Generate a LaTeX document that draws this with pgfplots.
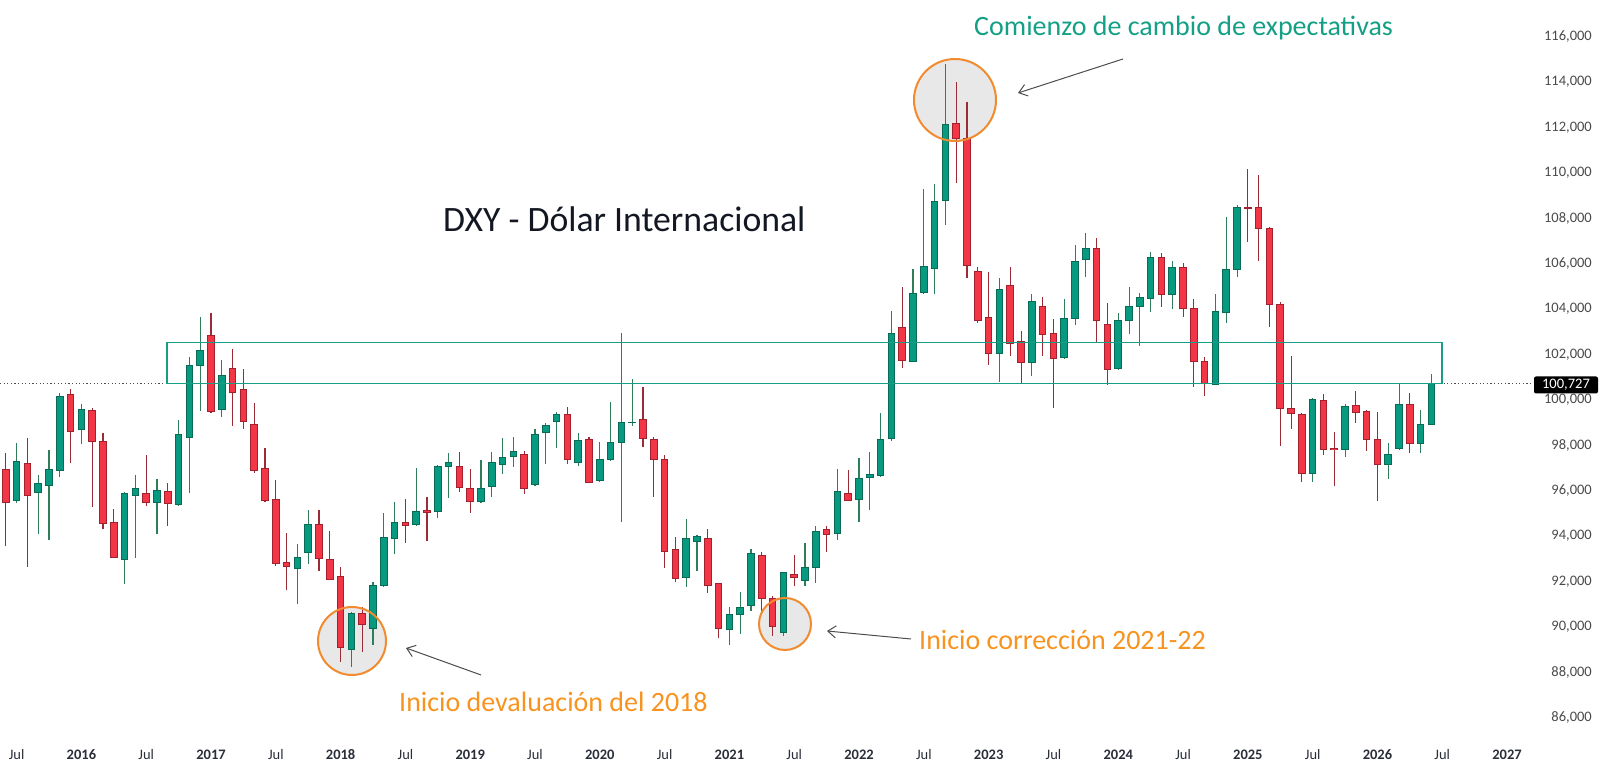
\documentclass[border=0pt]{standalone}
\usepackage{fontspec}
\setmainfont{Carlito}
\usepackage{pgfplots}
\pgfplotsset{compat=1.18}
\usepackage{pgfplotstable}
\usetikzlibrary{arrows.meta}

\definecolor{cgreen}{HTML}{089981}
\definecolor{gborder}{HTML}{0A6B55}
\definecolor{gwick}{HTML}{2E7D5B}
\definecolor{cred}{HTML}{F23645}
\definecolor{rborder}{HTML}{A3202E}
\definecolor{rwick}{HTML}{9B2C35}
\definecolor{boxteal}{HTML}{179E86}
\definecolor{tealtext}{HTML}{14A085}
\definecolor{orangetxt}{HTML}{F7931E}
\definecolor{orangeline}{HTML}{F28A2E}
\definecolor{circfill}{HTML}{E8E8E8}
\definecolor{ylab}{HTML}{4A4A4A}
\definecolor{xlab}{HTML}{2A2E39}
\definecolor{titlecol}{HTML}{131722}

\pgfplotstableread{
m O H L C
1 95.59 98.12 95.45 97.30
3 95.92 96.70 94.08 96.33
4 96.24 97.80 93.83 96.95
5 96.89 100.30 96.62 100.15
7 98.68 99.82 98.06 99.59
11 92.98 95.95 91.89 95.89
12 95.79 96.70 93.02 96.11
14 95.49 96.50 94.08 96.01
16 95.39 99.12 95.33 98.46
17 98.36 101.91 95.92 101.50
18 101.50 103.67 99.50 102.20
20 99.56 101.76 99.24 101.09
27 92.59 93.64 91.01 93.06
28 93.28 95.15 92.76 94.52
32 88.99 90.68 88.25 90.60
34 89.94 91.97 89.21 91.81
35 91.81 95.04 91.75 93.95
36 93.91 95.49 93.22 94.61
38 94.52 96.99 94.45 95.08
40 95.08 97.14 94.82 97.09
41 97.06 97.68 95.70 97.24
44 95.52 97.36 95.45 96.11
45 96.21 97.70 95.74 97.25
46 97.17 98.31 96.74 97.46
47 97.50 98.36 97.06 97.72
49 96.26 98.71 96.22 98.49
50 98.56 99.00 97.17 98.87
51 99.07 99.49 97.87 99.37
53 97.25 98.53 97.11 98.21
55 96.45 98.16 96.40 97.39
56 97.36 99.93 97.30 98.12
57 98.12 102.97 94.64 99.02
58 98.99 100.91 98.85 99.03
63 92.17 94.74 91.75 93.88
64 93.76 94.05 92.48 93.98
67 89.90 90.87 89.20 90.53
68 90.53 91.56 89.69 90.87
69 90.94 93.42 90.72 93.22
72 89.75 92.44 89.60 92.39
74 92.05 93.70 91.80 92.62
75 92.62 94.47 91.96 94.21
77 94.12 96.95 93.83 95.97
79 95.63 97.44 94.63 96.53
80 96.60 97.72 95.14 96.72
81 96.69 99.42 96.60 98.26
82 98.29 103.90 98.20 102.93
84 101.71 105.76 101.66 104.68
85 104.75 109.28 104.69 105.88
86 105.80 109.50 104.65 108.73
87 108.80 114.80 107.72 112.13
92 102.05 105.37 100.81 104.88
95 101.66 104.68 101.04 104.32
98 101.86 104.43 101.79 103.60
99 103.60 106.83 103.30 106.09
100 106.20 107.37 105.40 106.68
103 101.39 103.82 101.32 103.50
104 103.50 104.96 102.91 104.14
105 104.11 104.70 102.38 104.51
106 104.48 106.51 103.89 106.29
108 104.63 106.14 104.01 105.84
112 100.70 104.67 100.65 103.89
113 103.85 108.05 103.41 105.76
114 105.76 108.59 105.43 108.47
121 96.77 100.10 96.40 100.03
124 97.80 99.82 97.50 99.71
128 97.14 98.09 96.51 97.62
129 97.87 100.71 97.80 99.82
131 98.09 99.56 97.65 98.93
132 98.93 101.13 98.90 100.73
}\greendata

\pgfplotstableread{
m O H L C
0 96.92 97.68 93.58 95.48
2 97.21 98.34 92.66 95.79
6 100.25 100.47 97.21 98.61
8 99.56 99.63 95.27 98.19
9 98.16 98.56 94.30 94.57
10 94.61 95.18 93.02 93.05
13 95.89 97.58 95.33 95.49
15 95.96 96.33 94.45 95.42
19 102.86 103.82 99.44 99.49
21 101.41 102.23 98.85 100.32
22 100.47 101.35 98.71 99.05
23 98.90 99.88 96.80 96.89
24 96.99 97.87 95.52 95.57
25 95.60 96.48 92.70 92.81
26 92.85 94.13 91.63 92.66
29 94.52 95.15 92.48 93.03
30 92.98 94.23 92.07 92.10
31 92.22 92.63 88.44 89.10
33 90.60 90.90 88.91 90.13
37 94.61 95.62 93.72 94.49
39 95.12 95.74 93.80 95.06
42 97.09 97.70 95.96 96.15
43 96.11 96.95 95.04 95.52
48 97.62 97.77 95.86 96.11
52 99.37 99.68 97.18 97.36
54 98.24 98.35 96.33 96.36
59 99.12 100.59 97.94 98.31
60 98.28 98.35 95.74 97.39
61 97.39 97.58 92.58 93.32
62 93.42 93.95 92.00 92.13
65 93.88 94.30 91.51 91.82
66 91.92 91.95 89.50 89.94
70 93.17 93.29 90.53 91.26
71 91.26 91.36 89.60 90.01
73 92.32 93.17 91.81 92.19
76 94.29 94.47 93.32 94.06
78 95.90 96.92 95.54 95.59
83 103.18 104.99 101.43 101.74
88 112.17 114.00 109.55 111.51
89 111.51 113.15 105.37 105.94
90 105.68 105.87 103.39 103.49
91 103.64 105.63 101.54 102.05
93 105.03 105.84 101.94 102.47
94 102.59 103.05 100.77 101.66
96 104.14 104.52 101.94 102.89
97 102.91 103.57 99.63 101.84
101 106.68 107.12 102.54 103.50
102 103.33 104.26 100.66 101.35
107 106.29 106.46 104.08 104.63
109 105.84 106.05 103.67 104.01
110 104.04 104.43 100.56 101.69
111 101.69 101.91 100.18 100.73
115 108.49 110.18 106.98 108.45
116 108.49 109.91 106.12 107.56
117 107.56 107.60 103.20 104.19
118 104.19 104.33 97.97 99.63
119 99.63 101.95 98.72 99.41
120 99.37 99.41 96.37 96.77
122 100.00 100.25 97.58 97.83
123 97.86 98.61 96.23 97.80
125 99.74 100.41 99.00 99.46
126 99.49 99.56 97.77 98.27
127 98.27 99.49 95.57 97.14
130 99.78 100.29 97.65 98.09
}\reddata

\pgfplotsset{
  wick/.style={draw=none, mark=none, forget plot,
    error bars/.cd, y dir=both, y explicit, error mark=none,
    error bar style={line width=1.1bp, draw=#1}},
  body/.style 2 args={draw=none, mark=none, forget plot,
    error bars/.cd, y dir=both, y explicit, error mark=none,
    error bar style={line width=#2, draw=#1, line cap=butt}},
}

\begin{document}
\begin{tikzpicture}
\useasboundingbox (0,0) rectangle (1601bp,766bp);
% circle fills behind candles (pixel coordinates)
\begin{scope}[x=1bp,y=-1bp,yshift=766bp]
  \fill[circfill] (955,100) circle[radius=41];
  \fill[circfill] (352,641) circle[radius=34];
  \fill[circfill] (785,624) circle[radius=26];
\end{scope}

\begin{axis}[
  at={(0bp,26bp)}, anchor=south west,
  scale only axis, width=1532bp, height=740bp,
  xmin=-0.537, xmax=141.31, ymin=85.022, ymax=117.621,
  enlargelimits=false,
  axis line style={draw=none},
  major tick length=0pt, tick style={draw=none},
  ytick={86,88,...,116},
  yticklabel pos=right,
  yticklabel style={anchor=east, xshift=60bp, inner sep=0pt, text=ylab,
    font=\fontsize{14.5bp}{17bp}\selectfont,
    /pgf/number format/fixed, /pgf/number format/fixed zerofill,
    /pgf/number format/precision=3, /pgf/number format/use comma,
    /pgf/number format/assume math mode=true},
  xtick={1,7,...,139},
  xticklabels={Jul,\textbf{2016},Jul,\textbf{2017},Jul,\textbf{2018},Jul,\textbf{2019},Jul,\textbf{2020},Jul,\textbf{2021},Jul,\textbf{2022},Jul,\textbf{2023},Jul,\textbf{2024},Jul,\textbf{2025},Jul,\textbf{2026},Jul,\textbf{2027}},
  xticklabel style={anchor=center, yshift=-15bp, inner sep=0pt, text=xlab,
    font=\fontsize{14.5bp}{17bp}\selectfont},
]
% wicks
\addplot[wick=gwick] table[x=m, y expr={(\thisrow{H}+\thisrow{L})/2}, y error expr={(\thisrow{H}-\thisrow{L})/2}] {\greendata};
\addplot[wick=rwick] table[x=m, y expr={(\thisrow{H}+\thisrow{L})/2}, y error expr={(\thisrow{H}-\thisrow{L})/2}] {\reddata};
% body borders
\addplot[body={gborder}{7.6bp}] table[x=m, y expr={(\thisrow{O}+\thisrow{C})/2}, y error expr={abs(\thisrow{C}-\thisrow{O})/2+0.022}] {\greendata};
\addplot[body={rborder}{7.6bp}] table[x=m, y expr={(\thisrow{O}+\thisrow{C})/2}, y error expr={abs(\thisrow{C}-\thisrow{O})/2+0.022}] {\reddata};
% body fills
\addplot[body={cgreen}{5.6bp}] table[x=m, y expr={(\thisrow{O}+\thisrow{C})/2}, y error expr={max(abs(\thisrow{C}-\thisrow{O})/2-0.022,0)}] {\greendata};
\addplot[body={cred}{5.6bp}] table[x=m, y expr={(\thisrow{O}+\thisrow{C})/2}, y error expr={max(abs(\thisrow{C}-\thisrow{O})/2-0.022,0)}] {\reddata};
\end{axis}

\begin{scope}[x=1bp,y=-1bp,yshift=766bp]
  % dotted last-price line
  \draw[black!70, line width=1bp, dash pattern=on 1.2bp off 2.4bp] (0,383.5) -- (1534,383.5);
  % resistance box
  \draw[boxteal, line width=1.8bp] (166.7,342.5) rectangle (1442.3,383.5);
  % circle outlines
  \draw[orangeline, line width=2bp] (955,100) circle[radius=41];
  \draw[orangeline, line width=2bp] (352,641) circle[radius=34];
  \draw[orangeline, line width=2bp] (785,624) circle[radius=26];
  % arrows
  \draw[black!70, line width=1bp, -{Straight Barb[length=8bp,width=12bp]}] (481,675) -- (406,648);
  \draw[black!70, line width=1bp, -{Straight Barb[length=8bp,width=12bp]}] (911,639) -- (827,631);
  \draw[black!70, line width=1bp, -{Straight Barb[length=8bp,width=12bp]}] (1123,59) -- (1018,93);
  % texts
  \node[anchor=base west, inner sep=0pt, text=tealtext, font=\fontsize{28bp}{32bp}\selectfont] at (974,36) {Comienzo de cambio de expectativas};
  \node[anchor=base west, inner sep=0pt, text=titlecol, font=\fontsize{35.7bp}{40bp}\selectfont] at (443,231.7) {DXY - Dólar Internacional};
  \node[anchor=base west, inner sep=0pt, text=orangetxt, font=\fontsize{28bp}{32bp}\selectfont] at (399,711.5) {Inicio devaluación del 2018};
  \node[anchor=base west, inner sep=0pt, text=orangetxt, font=\fontsize{28bp}{32bp}\selectfont] at (919,649.5) {Inicio corrección 2021-22};
  % price tag
  \fill[black, rounded corners=2bp] (1534,376.5) rectangle (1598,393.5);
  \node[text=white, inner sep=0pt, font=\fontsize{14.5bp}{17bp}\selectfont] at (1566,385) {100,727};
\end{scope}
\end{tikzpicture}
\end{document}
